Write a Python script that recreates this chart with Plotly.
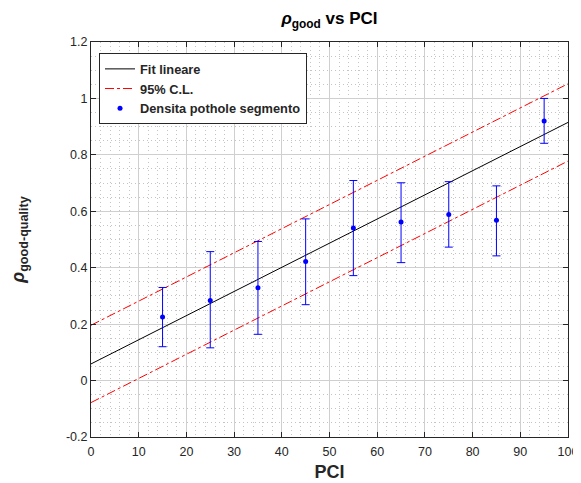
import plotly.graph_objects as go

# Data
pci = [15, 25, 35, 45, 55, 65, 75, 85, 95]
density = [0.225, 0.284, 0.329, 0.422, 0.541, 0.562, 0.589, 0.568, 0.920]
err_hi = [0.330, 0.457, 0.493, 0.573, 0.709, 0.701, 0.705, 0.690, 1.000]
err_lo = [0.120, 0.116, 0.164, 0.269, 0.372, 0.418, 0.473, 0.442, 0.841]

line_x = [0, 100]
fit_y = [0.059, 0.915]
cl_upper = [0.196, 1.052]
cl_lower = [-0.078, 0.778]

y_ticks = [-0.2, 0, 0.2, 0.4, 0.6, 0.8, 1, 1.2]
y_tick_text = ["-0.2", "0", "0.2", "0.4", "0.6", "0.8", "1", "1.2"]
x_ticks = [0, 10, 20, 30, 40, 50, 60, 70, 80, 90, 100]

plus = [h - d for h, d in zip(err_hi, density)]
minus = [d - l for d, l in zip(density, err_lo)]

FONT = "Liberation Sans, Arial, Helvetica, sans-serif"

fig = go.Figure()
fig.add_trace(go.Scatter(x=line_x, y=fit_y, mode="lines", name="<b>Fit lineare</b>",
                         line=dict(color="black", width=1)))
fig.add_trace(go.Scatter(x=line_x, y=cl_upper, mode="lines", name="<b>95% C.L.</b>",
                         line=dict(color="red", width=1, dash="dashdot")))
fig.add_trace(go.Scatter(x=line_x, y=cl_lower, mode="lines", showlegend=False,
                         line=dict(color="red", width=1, dash="dashdot")))
fig.add_trace(go.Scatter(x=pci, y=density, mode="markers", name="<b>Densita pothole segmento</b>",
                         marker=dict(color="blue", size=5),
                         error_y=dict(type="data", symmetric=False, array=plus, arrayminus=minus,
                                      color="blue", thickness=1, width=4)))

axis_common = dict(
    showline=True, linecolor="#262626", linewidth=1, mirror="ticks",
    ticks="inside", ticklen=5, tickcolor="#262626",
    showgrid=True, gridcolor="#cfcfcf", gridwidth=1,
    zeroline=False, automargin=False,
    tickfont=dict(family=FONT, size=12.5, color="#262626"),
)

# The page body has an 8px margin, so the figure is sized to fill the rest of the window.
fig.update_layout(
    width=573, height=475,
    paper_bgcolor="white", plot_bgcolor="white",
    margin=dict(l=83, r=13, t=34, b=46),
    font=dict(family=FONT, color="#262626"),
    title=dict(text="<b><i>ρ</i><sub>good</sub> vs PCI</b>", xref="paper", x=0.5, xanchor="center",
               yref="container", y=0.991, yanchor="top", automargin=False,
               font=dict(size=17, color="black", family=FONT)),
    xaxis=dict(range=[0, 100], tickvals=x_ticks, ticklabelstandoff=3,
               title=dict(text="<b>PCI</b>", font=dict(size=18, color="#262626"), standoff=7),
               minor=dict(dtick=2, showgrid=True, gridcolor="#c4c4c4", griddash="1px,3px", gridwidth=1),
               **axis_common),
    yaxis=dict(range=[-0.2, 1.2], tickvals=y_ticks, ticktext=y_tick_text,
               title=dict(text="<b><i>ρ</i><sub>good-quality</sub></b>", font=dict(size=18, color="#262626"), standoff=42),
               minor=dict(dtick=0.05, showgrid=True, gridcolor="#c4c4c4", griddash="1px,3px", gridwidth=1),
               **axis_common),
    legend=dict(x=0.0168, y=0.972, xanchor="left", yanchor="top",
                bgcolor="white", bordercolor="#262626", borderwidth=1,
                font=dict(family=FONT, size=12.8, color="#262626"),
                tracegroupgap=0),
    showlegend=True,
)

fig.write_html("out.html")
